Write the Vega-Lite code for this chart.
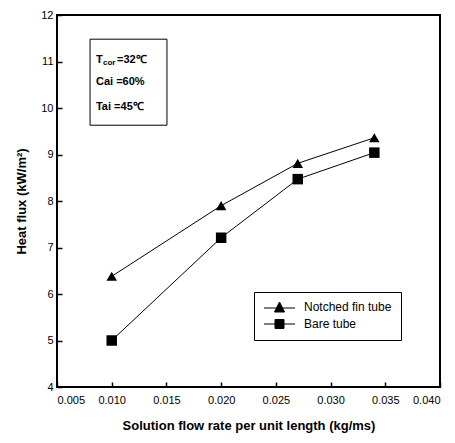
{
  "$schema": "https://vega.github.io/schema/vega-lite/v6.json",
  "width": 383,
  "height": 372,
  "autosize": {"type": "none"},
  "padding": {"left": 57, "top": 15, "right": 15, "bottom": 56},
  "config": {
    "view": {"stroke": "black", "strokeWidth": 2},
    "font": "Liberation Sans",
    "axis": {
      "grid": false,
      "domain": false,
      "labelColor": "black",
      "labelFont": "Liberation Sans",
      "labelFontSize": 11,
      "titleFont": "Liberation Sans",
      "titleFontWeight": "bold",
      "titleFontSize": 13,
      "titleColor": "black"
    }
  },
  "datasets": {
    "series": [
      {"rate": 0.010, "flux": 6.38, "tube": "Notched fin tube"},
      {"rate": 0.020, "flux": 7.90, "tube": "Notched fin tube"},
      {"rate": 0.027, "flux": 8.81, "tube": "Notched fin tube"},
      {"rate": 0.034, "flux": 9.36, "tube": "Notched fin tube"},
      {"rate": 0.010, "flux": 5.00, "tube": "Bare tube"},
      {"rate": 0.020, "flux": 7.21, "tube": "Bare tube"},
      {"rate": 0.027, "flux": 8.47, "tube": "Bare tube"},
      {"rate": 0.034, "flux": 9.04, "tube": "Bare tube"}
    ],
    "box": [{"x1": 0.00802, "x2": 0.01505, "y1": 9.63, "y2": 11.48}],
    "notes": [
      {"x": 0.00856, "y": 11.03, "main": "T", "rest": "=32℃", "sub": "cor"},
      {"x": 0.00856, "y": 10.56, "main": "Cai =60%", "rest": "", "sub": ""},
      {"x": 0.00856, "y": 10.02, "main": "Tai =45℃", "rest": "", "sub": ""}
    ]
  },
  "resolve": {"scale": {"shape": "independent"}, "legend": {"shape": "independent"}},
  "layer": [
    {
      "data": {"name": "series"},
      "mark": {"type": "line", "color": "black", "strokeWidth": 1},
      "encoding": {
        "x": {
          "field": "rate", "type": "quantitative",
          "scale": {"domain": [0.005, 0.04], "nice": false, "zero": false},
          "axis": {
            "values": [0.005, 0.01, 0.015, 0.02, 0.025, 0.03, 0.035, 0.04],
            "format": ".3f",
            "tickSize": -5,
            "tickWidth": 1.5,
            "tickColor": "black",
            "labelPadding": 12,
            "title": "Solution flow rate per unit length (kg/ms)",
            "titlePadding": 14
          }
        },
        "y": {
          "field": "flux", "type": "quantitative",
          "scale": {"domain": [4, 12], "nice": false, "zero": false},
          "axis": {
            "values": [4, 5, 6, 7, 8, 9, 10, 11, 12],
            "tickSize": -5,
            "tickWidth": 1.5,
            "tickColor": "black",
            "labelPadding": 9,
            "title": "Heat flux (kW/m²)",
            "titlePadding": 12
          }
        },
        "detail": {"field": "tube"}
      }
    },
    {
      "data": {"name": "series"},
      "mark": {"type": "point", "filled": true, "color": "black", "opacity": 1, "size": 110},
      "encoding": {
        "x": {"field": "rate", "type": "quantitative"},
        "y": {"field": "flux", "type": "quantitative"},
        "shape": {
          "field": "tube", "type": "nominal",
          "scale": {"domain": ["Notched fin tube", "Bare tube"], "range": ["triangle-up", "square"]},
          "legend": null
        }
      }
    },
    {
      "data": {"name": "series"},
      "mark": {"type": "point", "filled": false, "fill": "black", "stroke": "black", "strokeWidth": 1, "opacity": 0, "size": 100},
      "encoding": {
        "x": {"field": "rate", "type": "quantitative"},
        "y": {"field": "flux", "type": "quantitative"},
        "shape": {
          "field": "tube", "type": "nominal",
          "scale": {"domain": ["Notched fin tube", "Bare tube"], "range": [
            "M-1,0.2H5.2M1.1,1L2.1,-1L3.1,1ZM2,-0.8H2.2M1.9,-0.6H2.3M1.8,-0.4H2.4M1.7,-0.2H2.5M1.6,0H2.6M1.5,0.2H2.7M1.4,0.4H2.8M1.3,0.6H2.9M1.2,0.8H3",
            "M-1,0H5.2M1.2,-0.9H3V0.9H1.2ZM1.2,-0.7H3M1.2,-0.5H3M1.2,-0.3H3M1.2,-0.1H3M1.2,0.1H3M1.2,0.3H3M1.2,0.5H3M1.2,0.7H3"
          ]},
          "legend": {
            "orient": "none",
            "legendX": 197,
            "legendY": 277,
            "title": null,
            "strokeColor": "black",
            "fillColor": "white",
            "padding": 9,
            "labelFont": "Liberation Sans",
            "labelFontSize": 12,
            "labelColor": "black",
            "symbolSize": 100,
            "symbolOpacity": 1,
            "symbolStrokeWidth": 1,
            "rowPadding": 3,
            "labelOffset": 29
          }
        }
      }
    },
    {
      "data": {"name": "box"},
      "mark": {"type": "rect", "fill": "white", "stroke": "black", "strokeWidth": 1},
      "encoding": {
        "x": {"field": "x1", "type": "quantitative"},
        "x2": {"field": "x2"},
        "y": {"field": "y1", "type": "quantitative"},
        "y2": {"field": "y2"}
      }
    },
    {
      "data": {"name": "notes"},
      "mark": {"type": "text", "align": "left", "baseline": "middle", "fontWeight": "bold", "fontSize": 11, "color": "black"},
      "encoding": {
        "x": {"field": "x", "type": "quantitative"},
        "y": {"field": "y", "type": "quantitative"},
        "text": {"field": "main"}
      }
    },
    {
      "data": {"name": "notes"},
      "mark": {"type": "text", "align": "left", "baseline": "middle", "fontWeight": "bold", "fontSize": 8, "color": "black", "dx": 7, "dy": 3},
      "encoding": {
        "x": {"field": "x", "type": "quantitative"},
        "y": {"field": "y", "type": "quantitative"},
        "text": {"field": "sub"}
      }
    },
    {
      "data": {"name": "notes"},
      "mark": {"type": "text", "align": "left", "baseline": "middle", "fontWeight": "bold", "fontSize": 11, "color": "black", "dx": 21},
      "encoding": {
        "x": {"field": "x", "type": "quantitative"},
        "y": {"field": "y", "type": "quantitative"},
        "text": {"field": "rest"}
      }
    }
  ]
}
